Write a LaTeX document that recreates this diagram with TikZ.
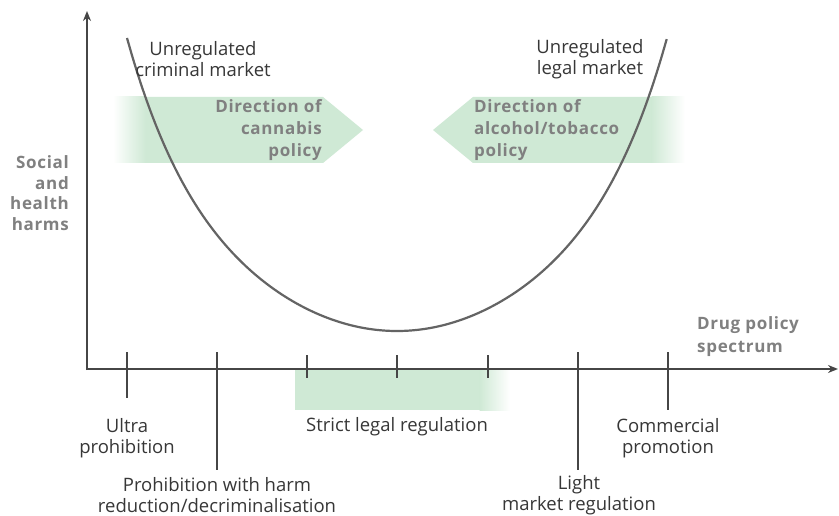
\documentclass[tikz,border=0pt]{standalone}
\usepackage{fontspec}
\setmainfont{Open Sans}
\newfontfamily\graybold[LetterSpace=4]{Open Sans}
\usetikzlibrary{arrows.meta}
\definecolor{band}{RGB}{207,233,213}
\definecolor{ink}{RGB}{55,55,55}
\definecolor{axisc}{RGB}{70,70,70}
\definecolor{curvec}{RGB}{100,100,100}
\definecolor{grayt}{RGB}{128,128,128}
\begin{document}
\begin{tikzpicture}[x=1pt,y=-1pt,
  lbl/.style={font=\fontsize{18.5}{21.5}\selectfont, text=ink, align=center, inner sep=0pt},
  glbl/.style={font=\graybold\bfseries\fontsize{17}{22}\selectfont, text=grayt, inner sep=0pt},
  axisline/.style={line width=1.8pt, draw=axisc, -{Stealth[length=10pt,width=8pt]}},
  tickline/.style={line width=1.5pt, draw=axisc}]
\useasboundingbox[fill=white] (0,0) rectangle (839,516);
% green bands
\fill[band] (145,97) -- (323,97) -- (363,130) -- (323,163) -- (145,163) -- cycle;
\shade[left color=white, right color=band] (113,97) rectangle (145.5,163);
\fill[band] (433,130) -- (473,97) -- (652,97) -- (652,163) -- (473,163) -- cycle;
\shade[left color=band, right color=white] (651.5,97) rectangle (685,163);
\fill[band] (295,370) rectangle (480,410);
\shade[left color=band, right color=white] (479.5,370) rectangle (510,410);
% curve
\draw[line width=2.2pt, draw=curvec] plot[domain=-1:1, samples=101, smooth]
  ({397+270*\x}, {331-293*(0.674*\x*\x+0.326*\x*\x*\x*\x*\x*\x)});
% axes
\coordinate (O) at (87,370);
\coordinate (ytop) at (87,11);
\coordinate (xend) at (838,369);
\draw[axisline] (O) -- (ytop);
\draw[axisline] (87,369) -- (xend);
% ticks
\coordinate (t1a) at (127,352); \coordinate (t1b) at (127,398);
\coordinate (t2a) at (217,352); \coordinate (t2b) at (217,470);
\coordinate (t3a) at (307,355); \coordinate (t3b) at (307,378);
\coordinate (t4a) at (397,355); \coordinate (t4b) at (397,378);
\coordinate (t5a) at (488,355); \coordinate (t5b) at (488,378);
\coordinate (t6a) at (578,352); \coordinate (t6b) at (578,470);
\coordinate (t7a) at (668,352); \coordinate (t7b) at (668,410);
\foreach \i in {1,...,7} \draw[tickline] (t\i a) -- (t\i b);
% labels
\node[lbl] (crim) at (203,59) {Unregulated\\criminal market};
\node[lbl] (legal) at (590,59) {Unregulated\\legal market};
\node[glbl, align=right, anchor=east] (cann) at (322,130) {Direction of\\cannabis\\policy};
\node[glbl, align=left, anchor=west] (alc) at (474,130) {Direction of\\alcohol/tobacco\\policy};
\node[glbl, align=right, anchor=east, font=\graybold\bfseries\fontsize{17}{20.7}\selectfont] (harm) at (69,193) {Social\\and\\health\\harms};
\node[glbl, align=left, anchor=west, font=\graybold\bfseries\fontsize{17}{23}\selectfont] (spec) at (697,337) {Drug policy\\spectrum};
\node[lbl] (ultra) at (127,438) {Ultra\\prohibition};
\node[lbl, font=\fontsize{18.5}{20.5}\selectfont] (phr) at (217,495) {Prohibition with harm\\reduction/decriminalisation};
\node[lbl] (strict) at (397,427) {Strict legal regulation};
\node[lbl, font=\fontsize{18.5}{20.5}\selectfont] (light) at (579,495) {Light\\market regulation};
\node[lbl] (comm) at (668,438) {Commercial\\promotion};
\end{tikzpicture}
\end{document}
